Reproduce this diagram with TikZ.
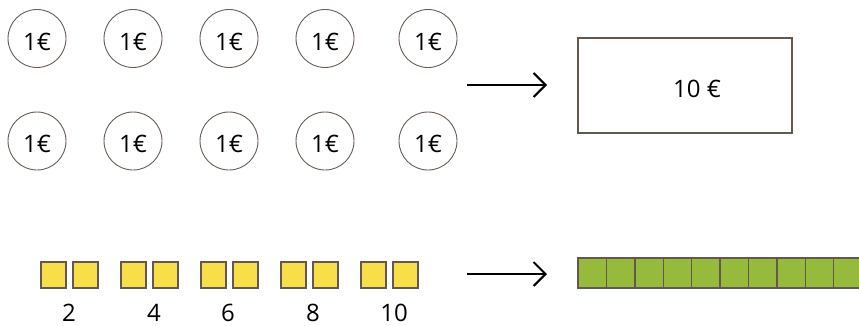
\documentclass[tikz,border=0pt]{standalone}
\usepackage{fontspec}
\setmainfont{Open Sans}
\definecolor{coinline}{RGB}{105, 92, 82}
\definecolor{boxline}{RGB}{100, 88, 78}
\definecolor{unityellow}{RGB}{248, 222, 72}
\definecolor{tengreen}{RGB}{150, 187, 60}
\usetikzlibrary{arrows.meta, positioning}

\begin{document}
\begin{tikzpicture}[x=1pt, y=-1pt,
  coin/.style={draw=coinline, line width=0.9pt, circle, minimum size=58pt, inner sep=0pt, text height=23pt, text depth=0pt, font=\fontsize{24}{28}\selectfont},
  unitsq/.style={draw=boxline, fill=unityellow, line width=1.4pt, minimum width=25pt, minimum height=26pt, inner sep=0pt},
  tensq/.style={draw=boxline, fill=tengreen, line width=1.4pt, minimum width=28.4pt, minimum height=30pt, inner sep=0pt},
  numlabel/.style={font=\fontsize{24}{28}\selectfont, inner sep=0pt, anchor=base},
  bigarrow/.style={-{Straight Barb[length=12pt, width=24pt]}, line width=2pt, black}]
  \clip (0, 0) rectangle (859, 325);
  \useasboundingbox (0, 0) rectangle (859, 325);

  % Coins
  \foreach \cx [count=\i] in {37, 133, 229, 325, 428} {
    \node[coin] (coinA\i) at (\cx, 38.5) {1€};
    \node[coin] (coinB\i) at (\cx, 141) {1€};
  }

  % Note
  \node[draw=boxline, line width=1.4pt, minimum width=214pt, minimum height=95pt, inner sep=0pt] (note) at (685, 85.5) {};
  \node[numlabel] (notetext) at (697, 97.5) {10 €};

  % Unit cubes
  \foreach \px [count=\i] in {41, 121, 201, 281, 361} {
    \node[unitsq] (cubeL\i) at (\px + 12.5, 275) {};
    \node[unitsq] (cubeR\i) at (\px + 44.5, 275) {};
  }
  \foreach \lx/\txt [count=\i] in {69/2, 154/4, 228/6, 313/8, 394/10} {
    \node[numlabel] (count\i) at (\lx, 321.5) {\txt};
  }

  % Ten rod
  \foreach \i in {0,...,9} {
    \node[tensq] (rod\i) at (592.2 + 28.4*\i, 273) {};
  }

  % Arrows
  \coordinate (topstart) at (467, 85);
  \coordinate (topend) at (547, 85);
  \coordinate (botstart) at (467, 274);
  \coordinate (botend) at (547, 274);
  \draw[bigarrow] (topstart) -- (topend);
  \draw[bigarrow] (botstart) -- (botend);
\end{tikzpicture}
\end{document}
